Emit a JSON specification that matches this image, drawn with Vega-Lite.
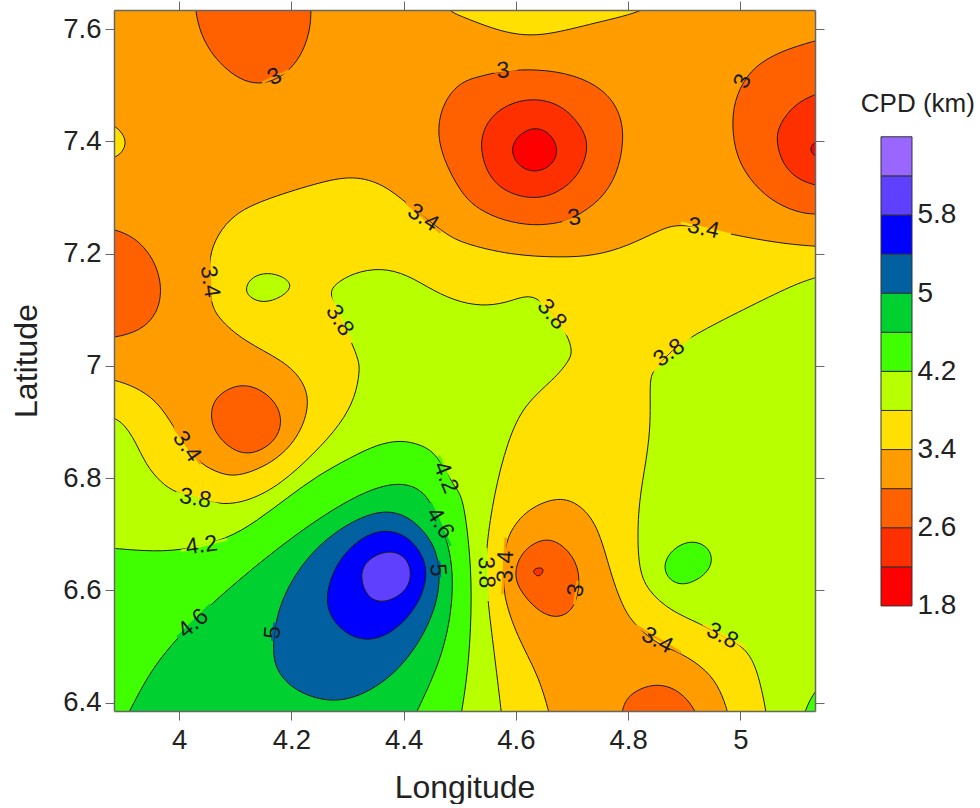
{"$schema":"https://vega.github.io/schema/vega-lite/v6.json","padding":{"left":10,"top":0,"right":0,"bottom":0},"background":"white","config":{"font":"Liberation Sans","concat":{"spacing":35}},
"datasets":{"polys":[
{"poly":"a","band":"b3.4","i":0,"lon":5.155,"lat":7.212},{"poly":"a","band":"b3.4","i":1,"lon":5.133,"lat":7.213},{"poly":"a","band":"b3.4","i":2,"lon":5.072,"lat":7.218},{"poly":"a","band":"b3.4","i":3,"lon":4.983,"lat":7.234},{"poly":"a","band":"b3.4","i":4,"lon":4.894,"lat":7.255},{"poly":"a","band":"b3.4","i":5,"lon":4.858,"lat":7.243},{"poly":"a","band":"b3.4","i":6,"lon":4.799,"lat":7.213},{"poly":"a","band":"b3.4","i":7,"lon":4.74,"lat":7.196},{"poly":"a","band":"b3.4","i":8,"lon":4.68,"lat":7.193},{"poly":"a","band":"b3.4","i":9,"lon":4.591,"lat":7.197},{"poly":"a","band":"b3.4","i":10,"lon":4.502,"lat":7.219},{"poly":"a","band":"b3.4","i":11,"lon":4.472,"lat":7.237},{"poly":"a","band":"b3.4","i":12,"lon":4.404,"lat":7.291},{"poly":"a","band":"b3.4","i":13,"lon":4.365,"lat":7.323},{"poly":"a","band":"b3.4","i":14,"lon":4.311,"lat":7.34},{"poly":"a","band":"b3.4","i":15,"lon":4.246,"lat":7.326},{"poly":"a","band":"b3.4","i":16,"lon":4.145,"lat":7.294},{"poly":"a","band":"b3.4","i":17,"lon":4.098,"lat":7.27},{"poly":"a","band":"b3.4","i":18,"lon":4.068,"lat":7.234},{"poly":"a","band":"b3.4","i":19,"lon":4.053,"lat":7.193},{"poly":"a","band":"b3.4","i":20,"lon":4.055,"lat":7.151},{"poly":"a","band":"b3.4","i":21,"lon":4.056,"lat":7.115},{"poly":"a","band":"b3.4","i":22,"lon":4.068,"lat":7.086},{"poly":"a","band":"b3.4","i":23,"lon":4.115,"lat":7.044},{"poly":"a","band":"b3.4","i":24,"lon":4.187,"lat":7.009},{"poly":"a","band":"b3.4","i":25,"lon":4.222,"lat":6.973},{"poly":"a","band":"b3.4","i":26,"lon":4.233,"lat":6.932},{"poly":"a","band":"b3.4","i":27,"lon":4.216,"lat":6.878},{"poly":"a","band":"b3.4","i":28,"lon":4.175,"lat":6.831},{"poly":"a","band":"b3.4","i":29,"lon":4.109,"lat":6.802},{"poly":"a","band":"b3.4","i":30,"lon":4.074,"lat":6.807},{"poly":"a","band":"b3.4","i":31,"lon":4.038,"lat":6.825},{"poly":"a","band":"b3.4","i":32,"lon":4.014,"lat":6.855},{"poly":"a","band":"b3.4","i":33,"lon":3.991,"lat":6.89},{"poly":"a","band":"b3.4","i":34,"lon":3.961,"lat":6.938},{"poly":"a","band":"b3.4","i":35,"lon":3.919,"lat":6.964},{"poly":"a","band":"b3.4","i":36,"lon":3.884,"lat":6.975},{"poly":"a","band":"b3.4","i":37,"lon":3.86,"lat":6.979},{"poly":"a","band":"b3.4","i":38,"lon":3.7,"lat":6.98},{"poly":"a","band":"b3.4","i":39,"lon":3.3,"lat":6},{"poly":"a","band":"b3.4","i":40,"lon":5.7,"lat":6},{"poly":"a","band":"b3.4","i":41,"lon":5.5,"lat":7.21},
{"poly":"b","band":"b3.4","i":0,"lon":4.46,"lat":7.668},{"poly":"b","band":"b3.4","i":1,"lon":4.478,"lat":7.633},{"poly":"b","band":"b3.4","i":2,"lon":4.502,"lat":7.623},{"poly":"b","band":"b3.4","i":3,"lon":4.555,"lat":7.602},{"poly":"b","band":"b3.4","i":4,"lon":4.603,"lat":7.589},{"poly":"b","band":"b3.4","i":5,"lon":4.656,"lat":7.589},{"poly":"b","band":"b3.4","i":6,"lon":4.74,"lat":7.611},{"poly":"b","band":"b3.4","i":7,"lon":4.838,"lat":7.633},{"poly":"b","band":"b3.4","i":8,"lon":4.87,"lat":7.668},
{"poly":"c","band":"b3.4","i":0,"lon":3.863,"lat":7.436},{"poly":"c","band":"b3.4","i":1,"lon":3.884,"lat":7.429},{"poly":"c","band":"b3.4","i":2,"lon":3.899,"lat":7.415},{"poly":"c","band":"b3.4","i":3,"lon":3.906,"lat":7.398},{"poly":"c","band":"b3.4","i":4,"lon":3.899,"lat":7.38},{"poly":"c","band":"b3.4","i":5,"lon":3.884,"lat":7.37},{"poly":"c","band":"b3.4","i":6,"lon":3.863,"lat":7.365},
{"poly":"d","band":"b2.6","i":0,"lon":4.026,"lat":7.668},{"poly":"d","band":"b2.6","i":1,"lon":4.029,"lat":7.633},{"poly":"d","band":"b2.6","i":2,"lon":4.038,"lat":7.591},{"poly":"d","band":"b2.6","i":3,"lon":4.062,"lat":7.549},{"poly":"d","band":"b2.6","i":4,"lon":4.098,"lat":7.516},{"poly":"d","band":"b2.6","i":5,"lon":4.133,"lat":7.501},{"poly":"d","band":"b2.6","i":6,"lon":4.169,"lat":7.507},{"poly":"d","band":"b2.6","i":7,"lon":4.199,"lat":7.528},{"poly":"d","band":"b2.6","i":8,"lon":4.222,"lat":7.561},{"poly":"d","band":"b2.6","i":9,"lon":4.234,"lat":7.602},{"poly":"d","band":"b2.6","i":10,"lon":4.235,"lat":7.633},{"poly":"d","band":"b2.6","i":11,"lon":4.235,"lat":7.668},
{"poly":"e","band":"b2.6","i":0,"lon":3.848,"lat":7.252},{"poly":"e","band":"b2.6","i":1,"lon":3.884,"lat":7.243},{"poly":"e","band":"b2.6","i":2,"lon":3.919,"lat":7.231},{"poly":"e","band":"b2.6","i":3,"lon":3.955,"lat":7.193},{"poly":"e","band":"b2.6","i":4,"lon":3.971,"lat":7.139},{"poly":"e","band":"b2.6","i":5,"lon":3.961,"lat":7.092},{"poly":"e","band":"b2.6","i":6,"lon":3.931,"lat":7.062},{"poly":"e","band":"b2.6","i":7,"lon":3.884,"lat":7.05},{"poly":"e","band":"b2.6","i":8,"lon":3.848,"lat":7.047},
{"poly":"f","band":"b2.6","i":0,"lon":4.472,"lat":7.472},{"poly":"f","band":"b2.6","i":1,"lon":4.459,"lat":7.424},{"poly":"f","band":"b2.6","i":2,"lon":4.469,"lat":7.371},{"poly":"f","band":"b2.6","i":3,"lon":4.502,"lat":7.308},{"poly":"f","band":"b2.6","i":4,"lon":4.532,"lat":7.279},{"poly":"f","band":"b2.6","i":5,"lon":4.579,"lat":7.258},{"poly":"f","band":"b2.6","i":6,"lon":4.633,"lat":7.249},{"poly":"f","band":"b2.6","i":7,"lon":4.68,"lat":7.255},{"poly":"f","band":"b2.6","i":8,"lon":4.704,"lat":7.264},{"poly":"f","band":"b2.6","i":9,"lon":4.751,"lat":7.294},{"poly":"f","band":"b2.6","i":10,"lon":4.781,"lat":7.341},{"poly":"f","band":"b2.6","i":11,"lon":4.793,"lat":7.401},{"poly":"f","band":"b2.6","i":12,"lon":4.787,"lat":7.451},{"poly":"f","band":"b2.6","i":13,"lon":4.757,"lat":7.493},{"poly":"f","band":"b2.6","i":14,"lon":4.704,"lat":7.519},{"poly":"f","band":"b2.6","i":15,"lon":4.639,"lat":7.529},{"poly":"f","band":"b2.6","i":16,"lon":4.576,"lat":7.526},{"poly":"f","band":"b2.6","i":17,"lon":4.538,"lat":7.516},{"poly":"f","band":"b2.6","i":18,"lon":4.502,"lat":7.507},
{"poly":"g","band":"b2.2","i":0,"lon":4.534,"lat":7.395},{"poly":"g","band":"b2.2","i":1,"lon":4.549,"lat":7.438},{"poly":"g","band":"b2.2","i":2,"lon":4.583,"lat":7.466},{"poly":"g","band":"b2.2","i":3,"lon":4.63,"lat":7.478},{"poly":"g","band":"b2.2","i":4,"lon":4.682,"lat":7.466},{"poly":"g","band":"b2.2","i":5,"lon":4.719,"lat":7.425},{"poly":"g","band":"b2.2","i":6,"lon":4.731,"lat":7.389},{"poly":"g","band":"b2.2","i":7,"lon":4.713,"lat":7.339},{"poly":"g","band":"b2.2","i":8,"lon":4.676,"lat":7.308},{"poly":"g","band":"b2.2","i":9,"lon":4.633,"lat":7.296},{"poly":"g","band":"b2.2","i":10,"lon":4.583,"lat":7.308},{"poly":"g","band":"b2.2","i":11,"lon":4.549,"lat":7.339},
{"poly":"h","band":"b1.8","i":0,"lon":4.59,"lat":7.385},{"poly":"h","band":"b1.8","i":1,"lon":4.603,"lat":7.411},{"poly":"h","band":"b1.8","i":2,"lon":4.633,"lat":7.427},{"poly":"h","band":"b1.8","i":3,"lon":4.662,"lat":7.415},{"poly":"h","band":"b1.8","i":4,"lon":4.677,"lat":7.385},{"poly":"h","band":"b1.8","i":5,"lon":4.665,"lat":7.356},{"poly":"h","band":"b1.8","i":6,"lon":4.633,"lat":7.343},{"poly":"h","band":"b1.8","i":7,"lon":4.603,"lat":7.356},
{"poly":"j","band":"b2.6","i":0,"lon":5.155,"lat":7.585},{"poly":"j","band":"b2.6","i":1,"lon":5.133,"lat":7.579},{"poly":"j","band":"b2.6","i":2,"lon":5.072,"lat":7.561},{"poly":"j","band":"b2.6","i":3,"lon":5.025,"lat":7.534},{"poly":"j","band":"b2.6","i":4,"lon":4.998,"lat":7.496},{"poly":"j","band":"b2.6","i":5,"lon":4.984,"lat":7.448},{"poly":"j","band":"b2.6","i":6,"lon":4.989,"lat":7.383},{"poly":"j","band":"b2.6","i":7,"lon":5.013,"lat":7.335},{"poly":"j","band":"b2.6","i":8,"lon":5.054,"lat":7.294},{"poly":"j","band":"b2.6","i":9,"lon":5.102,"lat":7.273},{"poly":"j","band":"b2.6","i":10,"lon":5.133,"lat":7.27},{"poly":"j","band":"b2.6","i":11,"lon":5.155,"lat":7.27},
{"poly":"k","band":"b2.2","i":0,"lon":5.155,"lat":7.49},{"poly":"k","band":"b2.2","i":1,"lon":5.133,"lat":7.484},{"poly":"k","band":"b2.2","i":2,"lon":5.096,"lat":7.466},{"poly":"k","band":"b2.2","i":3,"lon":5.069,"lat":7.43},{"poly":"k","band":"b2.2","i":4,"lon":5.063,"lat":7.401},{"poly":"k","band":"b2.2","i":5,"lon":5.075,"lat":7.359},{"poly":"k","band":"b2.2","i":6,"lon":5.102,"lat":7.332},{"poly":"k","band":"b2.2","i":7,"lon":5.133,"lat":7.322},{"poly":"k","band":"b2.2","i":8,"lon":5.155,"lat":7.317},
{"poly":"l","band":"b1.8","i":0,"lon":5.149,"lat":7.403},{"poly":"l","band":"b1.8","i":1,"lon":5.133,"lat":7.4},{"poly":"l","band":"b1.8","i":2,"lon":5.122,"lat":7.386},{"poly":"l","band":"b1.8","i":3,"lon":5.133,"lat":7.372},{"poly":"l","band":"b1.8","i":4,"lon":5.149,"lat":7.369},
{"poly":"m","band":"b2.6","i":0,"lon":4.055,"lat":6.915},{"poly":"m","band":"b2.6","i":1,"lon":4.065,"lat":6.946},{"poly":"m","band":"b2.6","i":2,"lon":4.103,"lat":6.968},{"poly":"m","band":"b2.6","i":3,"lon":4.14,"lat":6.962},{"poly":"m","band":"b2.6","i":4,"lon":4.172,"lat":6.937},{"poly":"m","band":"b2.6","i":5,"lon":4.185,"lat":6.902},{"poly":"m","band":"b2.6","i":6,"lon":4.172,"lat":6.864},{"poly":"m","band":"b2.6","i":7,"lon":4.127,"lat":6.839},{"poly":"m","band":"b2.6","i":8,"lon":4.09,"lat":6.852},{"poly":"m","band":"b2.6","i":9,"lon":4.062,"lat":6.883},
{"poly":"n","band":"b3.8","i":0,"lon":4.117,"lat":7.139},{"poly":"n","band":"b3.8","i":1,"lon":4.13,"lat":7.159},{"poly":"n","band":"b3.8","i":2,"lon":4.157,"lat":7.167},{"poly":"n","band":"b3.8","i":3,"lon":4.187,"lat":7.159},{"poly":"n","band":"b3.8","i":4,"lon":4.203,"lat":7.142},{"poly":"n","band":"b3.8","i":5,"lon":4.183,"lat":7.122},{"poly":"n","band":"b3.8","i":6,"lon":4.15,"lat":7.111},{"poly":"n","band":"b3.8","i":7,"lon":4.124,"lat":7.122},
{"poly":"o","band":"b3.8","i":0,"lon":3.86,"lat":6.914},{"poly":"o","band":"b3.8","i":1,"lon":3.884,"lat":6.908},{"poly":"o","band":"b3.8","i":2,"lon":3.902,"lat":6.896},{"poly":"o","band":"b3.8","i":3,"lon":3.922,"lat":6.866},{"poly":"o","band":"b3.8","i":4,"lon":3.94,"lat":6.825},{"poly":"o","band":"b3.8","i":5,"lon":3.967,"lat":6.792},{"poly":"o","band":"b3.8","i":6,"lon":3.994,"lat":6.774},{"poly":"o","band":"b3.8","i":7,"lon":4.029,"lat":6.765},{"poly":"o","band":"b3.8","i":8,"lon":4.077,"lat":6.751},{"poly":"o","band":"b3.8","i":9,"lon":4.127,"lat":6.76},{"poly":"o","band":"b3.8","i":10,"lon":4.181,"lat":6.789},{"poly":"o","band":"b3.8","i":11,"lon":4.24,"lat":6.843},{"poly":"o","band":"b3.8","i":12,"lon":4.288,"lat":6.896},{"poly":"o","band":"b3.8","i":13,"lon":4.314,"lat":6.944},{"poly":"o","band":"b3.8","i":14,"lon":4.322,"lat":6.991},{"poly":"o","band":"b3.8","i":15,"lon":4.32,"lat":7.009},{"poly":"o","band":"b3.8","i":16,"lon":4.308,"lat":7.041},{"poly":"o","band":"b3.8","i":17,"lon":4.288,"lat":7.08},{"poly":"o","band":"b3.8","i":18,"lon":4.267,"lat":7.127},{"poly":"o","band":"b3.8","i":19,"lon":4.276,"lat":7.145},{"poly":"o","band":"b3.8","i":20,"lon":4.311,"lat":7.166},{"poly":"o","band":"b3.8","i":21,"lon":4.359,"lat":7.175},{"poly":"o","band":"b3.8","i":22,"lon":4.406,"lat":7.163},{"poly":"o","band":"b3.8","i":23,"lon":4.454,"lat":7.133},{"poly":"o","band":"b3.8","i":24,"lon":4.502,"lat":7.112},{"poly":"o","band":"b3.8","i":25,"lon":4.55,"lat":7.106},{"poly":"o","band":"b3.8","i":26,"lon":4.591,"lat":7.115},{"poly":"o","band":"b3.8","i":27,"lon":4.63,"lat":7.13},{"poly":"o","band":"b3.8","i":28,"lon":4.662,"lat":7.098},{"poly":"o","band":"b3.8","i":29,"lon":4.692,"lat":7.056},{"poly":"o","band":"b3.8","i":30,"lon":4.701,"lat":7.026},{"poly":"o","band":"b3.8","i":31,"lon":4.695,"lat":7.009},{"poly":"o","band":"b3.8","i":32,"lon":4.668,"lat":6.976},{"poly":"o","band":"b3.8","i":33,"lon":4.615,"lat":6.932},{"poly":"o","band":"b3.8","i":34,"lon":4.585,"lat":6.866},{"poly":"o","band":"b3.8","i":35,"lon":4.561,"lat":6.771},{"poly":"o","band":"b3.8","i":36,"lon":4.547,"lat":6.676},{"poly":"o","band":"b3.8","i":37,"lon":4.547,"lat":6.629},{"poly":"o","band":"b3.8","i":38,"lon":4.55,"lat":6.581},{"poly":"o","band":"b3.8","i":39,"lon":4.561,"lat":6.492},{"poly":"o","band":"b3.8","i":40,"lon":4.574,"lat":6.385},{"poly":"o","band":"b3.8","i":41,"lon":4.576,"lat":6.362},{"poly":"o","band":"b3.8","i":42,"lon":4.576,"lat":6.3},{"poly":"o","band":"b3.8","i":43,"lon":3.4,"lat":6.2},{"poly":"o","band":"b3.8","i":44,"lon":3.6,"lat":6.914},
{"poly":"p","band":"b3.8","i":0,"lon":5.155,"lat":7.163},{"poly":"p","band":"b3.8","i":1,"lon":5.133,"lat":7.157},{"poly":"p","band":"b3.8","i":2,"lon":5.096,"lat":7.145},{"poly":"p","band":"b3.8","i":3,"lon":5.007,"lat":7.101},{"poly":"p","band":"b3.8","i":4,"lon":4.912,"lat":7.053},{"poly":"p","band":"b3.8","i":5,"lon":4.873,"lat":7.023},{"poly":"p","band":"b3.8","i":6,"lon":4.844,"lat":6.991},{"poly":"p","band":"b3.8","i":7,"lon":4.838,"lat":6.973},{"poly":"p","band":"b3.8","i":8,"lon":4.841,"lat":6.89},{"poly":"p","band":"b3.8","i":9,"lon":4.829,"lat":6.813},{"poly":"p","band":"b3.8","i":10,"lon":4.817,"lat":6.742},{"poly":"p","band":"b3.8","i":11,"lon":4.817,"lat":6.641},{"poly":"p","band":"b3.8","i":12,"lon":4.835,"lat":6.599},{"poly":"p","band":"b3.8","i":13,"lon":4.876,"lat":6.563},{"poly":"p","band":"b3.8","i":14,"lon":4.93,"lat":6.54},{"poly":"p","band":"b3.8","i":15,"lon":4.968,"lat":6.519},{"poly":"p","band":"b3.8","i":16,"lon":5.01,"lat":6.498},{"poly":"p","band":"b3.8","i":17,"lon":5.031,"lat":6.457},{"poly":"p","band":"b3.8","i":18,"lon":5.046,"lat":6.385},{"poly":"p","band":"b3.8","i":19,"lon":5.048,"lat":6.362},{"poly":"p","band":"b3.8","i":20,"lon":5.05,"lat":6.3},{"poly":"p","band":"b3.8","i":21,"lon":5.6,"lat":6.2},{"poly":"p","band":"b3.8","i":22,"lon":5.5,"lat":7.16},
{"poly":"q","band":"b4.2","i":0,"lon":3.86,"lat":6.676},{"poly":"q","band":"b4.2","i":1,"lon":3.884,"lat":6.675},{"poly":"q","band":"b4.2","i":2,"lon":3.937,"lat":6.67},{"poly":"q","band":"b4.2","i":3,"lon":4.003,"lat":6.67},{"poly":"q","band":"b4.2","i":4,"lon":4.086,"lat":6.691},{"poly":"q","band":"b4.2","i":5,"lon":4.139,"lat":6.724},{"poly":"q","band":"b4.2","i":6,"lon":4.193,"lat":6.765},{"poly":"q","band":"b4.2","i":7,"lon":4.246,"lat":6.804},{"poly":"q","band":"b4.2","i":8,"lon":4.306,"lat":6.837},{"poly":"q","band":"b4.2","i":9,"lon":4.353,"lat":6.86},{"poly":"q","band":"b4.2","i":10,"lon":4.395,"lat":6.868},{"poly":"q","band":"b4.2","i":11,"lon":4.43,"lat":6.86},{"poly":"q","band":"b4.2","i":12,"lon":4.46,"lat":6.843},{"poly":"q","band":"b4.2","i":13,"lon":4.49,"lat":6.783},{"poly":"q","band":"b4.2","i":14,"lon":4.505,"lat":6.771},{"poly":"q","band":"b4.2","i":15,"lon":4.517,"lat":6.682},{"poly":"q","band":"b4.2","i":16,"lon":4.522,"lat":6.593},{"poly":"q","band":"b4.2","i":17,"lon":4.517,"lat":6.474},{"poly":"q","band":"b4.2","i":18,"lon":4.504,"lat":6.385},{"poly":"q","band":"b4.2","i":19,"lon":4.499,"lat":6.362},{"poly":"q","band":"b4.2","i":20,"lon":4.499,"lat":6.3},{"poly":"q","band":"b4.2","i":21,"lon":3.4,"lat":6.2},{"poly":"q","band":"b4.2","i":22,"lon":3.6,"lat":6.676},
{"poly":"r","band":"b4.6","i":0,"lon":3.902,"lat":6.367},{"poly":"r","band":"b4.6","i":1,"lon":3.912,"lat":6.385},{"poly":"r","band":"b4.6","i":2,"lon":3.949,"lat":6.457},{"poly":"r","band":"b4.6","i":3,"lon":3.997,"lat":6.516},{"poly":"r","band":"b4.6","i":4,"lon":4.056,"lat":6.575},{"poly":"r","band":"b4.6","i":5,"lon":4.133,"lat":6.641},{"poly":"r","band":"b4.6","i":6,"lon":4.216,"lat":6.706},{"poly":"r","band":"b4.6","i":7,"lon":4.306,"lat":6.765},{"poly":"r","band":"b4.6","i":8,"lon":4.377,"lat":6.793},{"poly":"r","band":"b4.6","i":9,"lon":4.424,"lat":6.786},{"poly":"r","band":"b4.6","i":10,"lon":4.448,"lat":6.759},{"poly":"r","band":"b4.6","i":11,"lon":4.466,"lat":6.718},{"poly":"r","band":"b4.6","i":12,"lon":4.484,"lat":6.67},{"poly":"r","band":"b4.6","i":13,"lon":4.49,"lat":6.593},{"poly":"r","band":"b4.6","i":14,"lon":4.472,"lat":6.486},{"poly":"r","band":"b4.6","i":15,"lon":4.424,"lat":6.385},{"poly":"r","band":"b4.6","i":16,"lon":4.415,"lat":6.365},{"poly":"r","band":"b4.6","i":17,"lon":4.415,"lat":6.34},{"poly":"r","band":"b4.6","i":18,"lon":3.902,"lat":6.34},
{"poly":"s","band":"b5","i":0,"lon":4.166,"lat":6.498},{"poly":"s","band":"b5","i":1,"lon":4.175,"lat":6.569},{"poly":"s","band":"b5","i":2,"lon":4.216,"lat":6.647},{"poly":"s","band":"b5","i":3,"lon":4.276,"lat":6.706},{"poly":"s","band":"b5","i":4,"lon":4.353,"lat":6.745},{"poly":"s","band":"b5","i":5,"lon":4.406,"lat":6.736},{"poly":"s","band":"b5","i":6,"lon":4.448,"lat":6.694},{"poly":"s","band":"b5","i":7,"lon":4.463,"lat":6.653},{"poly":"s","band":"b5","i":8,"lon":4.465,"lat":6.605},{"poly":"s","band":"b5","i":9,"lon":4.448,"lat":6.54},{"poly":"s","band":"b5","i":10,"lon":4.395,"lat":6.457},{"poly":"s","band":"b5","i":11,"lon":4.323,"lat":6.409},{"poly":"s","band":"b5","i":12,"lon":4.264,"lat":6.4},{"poly":"s","band":"b5","i":13,"lon":4.205,"lat":6.421},{"poly":"s","band":"b5","i":14,"lon":4.172,"lat":6.457},
{"poly":"t","band":"b5.4","i":0,"lon":4.261,"lat":6.592},{"poly":"t","band":"b5.4","i":1,"lon":4.279,"lat":6.649},{"poly":"t","band":"b5.4","i":2,"lon":4.322,"lat":6.694},{"poly":"t","band":"b5.4","i":3,"lon":4.366,"lat":6.71},{"poly":"t","band":"b5.4","i":4,"lon":4.408,"lat":6.697},{"poly":"t","band":"b5.4","i":5,"lon":4.436,"lat":6.661},{"poly":"t","band":"b5.4","i":6,"lon":4.443,"lat":6.624},{"poly":"t","band":"b5.4","i":7,"lon":4.427,"lat":6.574},{"poly":"t","band":"b5.4","i":8,"lon":4.384,"lat":6.525},{"poly":"t","band":"b5.4","i":9,"lon":4.334,"lat":6.507},{"poly":"t","band":"b5.4","i":10,"lon":4.292,"lat":6.525},{"poly":"t","band":"b5.4","i":11,"lon":4.267,"lat":6.556},
{"poly":"u","band":"b5.8","i":0,"lon":4.322,"lat":6.623},{"poly":"u","band":"b5.8","i":1,"lon":4.331,"lat":6.653},{"poly":"u","band":"b5.8","i":2,"lon":4.371,"lat":6.673},{"poly":"u","band":"b5.8","i":3,"lon":4.404,"lat":6.662},{"poly":"u","band":"b5.8","i":4,"lon":4.416,"lat":6.629},{"poly":"u","band":"b5.8","i":5,"lon":4.404,"lat":6.596},{"poly":"u","band":"b5.8","i":6,"lon":4.365,"lat":6.576},{"poly":"u","band":"b5.8","i":7,"lon":4.335,"lat":6.586},
{"poly":"v","band":"b3","i":0,"lon":4.662,"lat":6.362},{"poly":"v","band":"b3","i":1,"lon":4.659,"lat":6.385},{"poly":"v","band":"b3","i":2,"lon":4.639,"lat":6.451},{"poly":"v","band":"b3","i":3,"lon":4.603,"lat":6.516},{"poly":"v","band":"b3","i":4,"lon":4.576,"lat":6.593},{"poly":"v","band":"b3","i":5,"lon":4.579,"lat":6.647},{"poly":"v","band":"b3","i":6,"lon":4.582,"lat":6.694},{"poly":"v","band":"b3","i":7,"lon":4.615,"lat":6.742},{"poly":"v","band":"b3","i":8,"lon":4.671,"lat":6.767},{"poly":"v","band":"b3","i":9,"lon":4.71,"lat":6.757},{"poly":"v","band":"b3","i":10,"lon":4.746,"lat":6.718},{"poly":"v","band":"b3","i":11,"lon":4.769,"lat":6.629},{"poly":"v","band":"b3","i":12,"lon":4.793,"lat":6.563},{"poly":"v","band":"b3","i":13,"lon":4.817,"lat":6.534},{"poly":"v","band":"b3","i":14,"lon":4.852,"lat":6.504},{"poly":"v","band":"b3","i":15,"lon":4.894,"lat":6.489},{"poly":"v","band":"b3","i":16,"lon":4.942,"lat":6.457},{"poly":"v","band":"b3","i":17,"lon":4.965,"lat":6.421},{"poly":"v","band":"b3","i":18,"lon":4.977,"lat":6.385},{"poly":"v","band":"b3","i":19,"lon":4.983,"lat":6.362},
{"poly":"w","band":"b2.6","i":0,"lon":4.597,"lat":6.636},{"poly":"w","band":"b2.6","i":1,"lon":4.613,"lat":6.673},{"poly":"w","band":"b2.6","i":2,"lon":4.653,"lat":6.696},{"poly":"w","band":"b2.6","i":3,"lon":4.688,"lat":6.679},{"poly":"w","band":"b2.6","i":4,"lon":4.713,"lat":6.642},{"poly":"w","band":"b2.6","i":5,"lon":4.713,"lat":6.598},{"poly":"w","band":"b2.6","i":6,"lon":4.701,"lat":6.563},{"poly":"w","band":"b2.6","i":7,"lon":4.672,"lat":6.549},{"poly":"w","band":"b2.6","i":8,"lon":4.638,"lat":6.563},{"poly":"w","band":"b2.6","i":9,"lon":4.603,"lat":6.604},
{"poly":"x","band":"b2.2","i":0,"lon":4.626,"lat":6.637},{"poly":"x","band":"b2.2","i":1,"lon":4.647,"lat":6.642},{"poly":"x","band":"b2.2","i":2,"lon":4.65,"lat":6.634},{"poly":"x","band":"b2.2","i":3,"lon":4.64,"lat":6.621},
{"poly":"y","band":"b2.6","i":0,"lon":4.786,"lat":6.362},{"poly":"y","band":"b2.6","i":1,"lon":4.789,"lat":6.385},{"poly":"y","band":"b2.6","i":2,"lon":4.799,"lat":6.415},{"poly":"y","band":"b2.6","i":3,"lon":4.849,"lat":6.437},{"poly":"y","band":"b2.6","i":4,"lon":4.894,"lat":6.421},{"poly":"y","band":"b2.6","i":5,"lon":4.921,"lat":6.385},{"poly":"y","band":"b2.6","i":6,"lon":4.927,"lat":6.362},
{"poly":"z","band":"b4.2","i":0,"lon":4.862,"lat":6.647},{"poly":"z","band":"b4.2","i":1,"lon":4.88,"lat":6.675},{"poly":"z","band":"b4.2","i":2,"lon":4.912,"lat":6.69},{"poly":"z","band":"b4.2","i":3,"lon":4.942,"lat":6.679},{"poly":"z","band":"b4.2","i":4,"lon":4.952,"lat":6.654},{"poly":"z","band":"b4.2","i":5,"lon":4.939,"lat":6.627},{"poly":"z","band":"b4.2","i":6,"lon":4.899,"lat":6.606},{"poly":"z","band":"b4.2","i":7,"lon":4.87,"lat":6.62},
{"poly":"zz","band":"b4.2","i":0,"lon":5.108,"lat":6.362},{"poly":"zz","band":"b4.2","i":1,"lon":5.115,"lat":6.385},{"poly":"zz","band":"b4.2","i":2,"lon":5.133,"lat":6.424},{"poly":"zz","band":"b4.2","i":3,"lon":5.155,"lat":6.433},{"poly":"zz","band":"b4.2","i":4,"lon":5.155,"lat":6.362}
],
"labels":[
{"t":"3","lon":4.17,"lat":7.515,"rot":-25,"band":"b3","lon1":4.148,"lat1":7.5045,"lon2":4.196,"lat2":7.5265},{"t":"3.4","lon":4.435,"lat":7.264,"rot":33,"band":"b3","lon1":4.404,"lat1":7.291,"lon2":4.466,"lat2":7.237},{"t":"3.4","lon":4.055,"lat":7.15,"rot":82,"band":"b3","lon1":4.053,"lat1":7.193,"lon2":4.056,"lat2":7.115},{"t":"3.8","lon":4.286,"lat":7.081,"rot":58,"band":"b3.4","lon1":4.267,"lat1":7.127,"lon2":4.308,"lat2":7.041},{"t":"3","lon":4.577,"lat":7.526,"rot":-3,"band":"b3","lon1":4.561,"lat1":7.524,"lon2":4.603,"lat2":7.529},{"t":"3","lon":4.704,"lat":7.264,"rot":-10,"band":"b3","lon1":4.683,"lat1":7.255,"lon2":4.731,"lat2":7.273},{"t":"3","lon":5.004,"lat":7.507,"rot":-65,"band":"b3","lon1":4.992,"lat1":7.49,"lon2":5.016,"lat2":7.528},{"t":"3.4","lon":4.934,"lat":7.245,"rot":12,"band":"b3.4","lon1":4.894,"lat1":7.255,"lon2":4.983,"lat2":7.234},{"t":"3.8","lon":4.664,"lat":7.092,"rot":50,"band":"b3.4","lon1":4.636,"lat1":7.127,"lon2":4.692,"lat2":7.056},{"t":"3.8","lon":4.873,"lat":7.023,"rot":-35,"band":"b3.4","lon1":4.844,"lat1":6.991,"lon2":4.912,"lat2":7.053},{"t":"3.4","lon":4.014,"lat":6.856,"rot":55,"band":"b3","lon1":3.991,"lat1":6.89,"lon2":4.038,"lat2":6.825},{"t":"3.8","lon":4.029,"lat":6.764,"rot":10,"band":"b3.8","lon1":3.994,"lat1":6.774,"lon2":4.077,"lat2":6.751},{"t":"4.2","lon":4.04,"lat":6.68,"rot":-8,"band":"b3.8","lon1":4.003,"lat1":6.67,"lon2":4.086,"lat2":6.691},{"t":"4.6","lon":4.025,"lat":6.541,"rot":-40,"band":"b4.6","lon1":3.997,"lat1":6.516,"lon2":4.056,"lat2":6.575},{"t":"5","lon":4.167,"lat":6.525,"rot":-85,"band":"b5","lon1":4.17,"lat1":6.543,"lon2":4.166,"lat2":6.51},{"t":"4.2","lon":4.475,"lat":6.801,"rot":68,"band":"b4.2","lon1":4.463,"lat1":6.84,"lon2":4.49,"lat2":6.774},{"t":"4.6","lon":4.465,"lat":6.72,"rot":58,"band":"b4.6","lon1":4.448,"lat1":6.756,"lon2":4.484,"lat2":6.679},{"t":"5","lon":4.461,"lat":6.636,"rot":85,"band":"b5","lon1":4.463,"lat1":6.653,"lon2":4.465,"lat2":6.623},{"t":"3.8","lon":4.547,"lat":6.632,"rot":88,"band":"b3.8","lon1":4.547,"lat1":6.676,"lon2":4.55,"lat2":6.581},{"t":"3.4","lon":4.582,"lat":6.642,"rot":-88,"band":"b3","lon1":4.582,"lat1":6.694,"lon2":4.576,"lat2":6.593},{"t":"3","lon":4.707,"lat":6.6,"rot":-80,"band":"b3","lon1":4.71,"lat1":6.617,"lon2":4.704,"lat2":6.575},{"t":"3.4","lon":4.852,"lat":6.511,"rot":28,"band":"b3","lon1":4.814,"lat1":6.537,"lon2":4.894,"lat2":6.489},{"t":"3.8","lon":4.968,"lat":6.519,"rot":27,"band":"b3.4","lon1":4.933,"lat1":6.54,"lon2":5.01,"lat2":6.498}
],
"bar":[
{"band":"b1.8","low":1.8,"high":2.2},{"band":"b2.2","low":2.2,"high":2.6},{"band":"b2.6","low":2.6,"high":3},{"band":"b3","low":3,"high":3.4},{"band":"b3.4","low":3.4,"high":3.8},{"band":"b3.8","low":3.8,"high":4.2},{"band":"b4.2","low":4.2,"high":4.6},{"band":"b4.6","low":4.6,"high":5},{"band":"b5","low":5,"high":5.4},{"band":"b5.4","low":5.4,"high":5.8},{"band":"b5.8","low":5.8,"high":6.2},{"band":"b6.2","low":6.2,"high":6.6}
]},
"hconcat":[
{"width":701,"height":701,"view":{"fill":"#ff9c00","stroke":null},
"layer":[
{"data":{"name":"polys"},"mark":{"type":"line","interpolate":"basis-closed","stroke":"#1a1a1a","strokeWidth":1,"clip":true},
"encoding":{"x":{"field":"lon","type":"quantitative","scale":{"domain":[3.884,5.133],"nice":false,"zero":false},"axis":{"values":[4,4.2,4.4,4.6,4.8,5],"format":"~g","grid":false,"title":"Longitude","titleFontSize":32,"titleFontWeight":"normal","titleColor":"#222","titlePadding":19,"labelFontSize":27.5,"labelColor":"#222","labelPadding":6,"tickSize":9,"tickColor":"#666","domainColor":"#666","domainWidth":1.5,"zindex":1}},
"y":{"field":"lat","type":"quantitative","scale":{"domain":[6.385,7.634],"nice":false,"zero":false},"axis":{"values":[6.4,6.6,6.8,7,7.2,7.4,7.6],"format":"~g","grid":false,"title":"Latitude","titleFontSize":32,"titleFontWeight":"normal","titleColor":"#222","titlePadding":19,"labelFontSize":27.5,"labelColor":"#222","labelPadding":4,"tickSize":9,"tickColor":"#666","domainColor":"#666","domainWidth":1.5,"zindex":1}},
"fill":{"field":"band","type":"nominal","legend":null,"scale":{"domain":["b1.8","b2.2","b2.6","b3","b3.4","b3.8","b4.2","b4.6","b5","b5.4","b5.8","b6.2"],"range":["#ff0000","#ff3000","#ff6000","#ff9c00","#ffe000","#b8ff00","#40ff00","#00d030","#0060a0","#0000ff","#6040ff","#9966ff"]}},
"detail":{"field":"poly"},"order":{"field":"i","type":"quantitative"}}},
{"data":{"name":"labels"},"mark":{"type":"rule","strokeWidth":2.5,"clip":true},
"encoding":{"x":{"field":"lon1","type":"quantitative","axis":null},"y":{"field":"lat1","type":"quantitative","axis":null},"x2":{"field":"lon2"},"y2":{"field":"lat2"},
"stroke":{"field":"band","type":"nominal","legend":null,"scale":{"domain":["b1.8","b2.2","b2.6","b3","b3.4","b3.8","b4.2","b4.6","b5","b5.4","b5.8","b6.2"],"range":["#ff0000","#ff3000","#ff6000","#ff9c00","#ffe000","#b8ff00","#40ff00","#00d030","#0060a0","#0000ff","#6040ff","#9966ff"]}}}},
{"data":{"name":"labels"},"mark":{"type":"text","font":"Liberation Sans","fontSize":23,"fill":"#1a1a1a","align":"center","baseline":"middle"},
"encoding":{"x":{"field":"lon","type":"quantitative","axis":null},"y":{"field":"lat","type":"quantitative","axis":null},"text":{"field":"t"},"angle":{"field":"rot","type":"quantitative","scale":null}}},
{"mark":{"type":"rule","opacity":0},"data":{"values":[{"lon":4}]},"encoding":{"x":{"field":"lon","type":"quantitative","axis":{"orient":"top","values":[4,4.2,4.4,4.6,4.8,5],"labels":false,"title":null,"grid":false,"tickSize":9,"tickColor":"#666","domainColor":"#666","domainWidth":1.5,"zindex":1}}}},
{"mark":{"type":"rule","opacity":0},"data":{"values":[{"lat":7}]},"encoding":{"y":{"field":"lat","type":"quantitative","axis":{"orient":"right","values":[6.4,6.6,6.8,7,7.2,7.4,7.6],"labels":false,"title":null,"grid":false,"tickSize":9,"tickColor":"#666","domainColor":"#666","domainWidth":1.5,"zindex":1}}}}
],"resolve":{"axis":{"x":"independent","y":"independent"},"scale":{"stroke":"independent"}}},
{"width":31,"height":701,"view":{"stroke":null},
"layer":[
{"data":{"name":"bar"},"mark":{"type":"rect","stroke":"#333","strokeWidth":1},
"encoding":{"y":{"field":"low","type":"quantitative","scale":{"domain":[0.725,7.897],"nice":false,"zero":false},"axis":{"orient":"right","values":[1.8,2.6,3.4,4.2,5,5.8],"format":"~g","title":null,"grid":false,"ticks":false,"domain":false,"labelFontSize":28,"labelColor":"#222","labelPadding":5}},"y2":{"field":"high"},
"fill":{"field":"band","type":"nominal","legend":null,"scale":{"domain":["b1.8","b2.2","b2.6","b3","b3.4","b3.8","b4.2","b4.6","b5","b5.4","b5.8","b6.2"],"range":["#ff0000","#ff3000","#ff6000","#ff9c00","#ffe000","#b8ff00","#40ff00","#00d030","#0060a0","#0000ff","#6040ff","#9966ff"]}}}},
{"data":{"values":[{"t":"CPD (km)","pos":1.19,"v":6.94}]},"mark":{"type":"text","font":"Liberation Sans","fontSize":26,"fill":"#222","align":"center","baseline":"middle","clip":false},
"encoding":{"x":{"field":"pos","type":"quantitative","scale":{"domain":[0,1]},"axis":null},"y":{"field":"v","type":"quantitative"},"text":{"field":"t"}}}
]}
]}
